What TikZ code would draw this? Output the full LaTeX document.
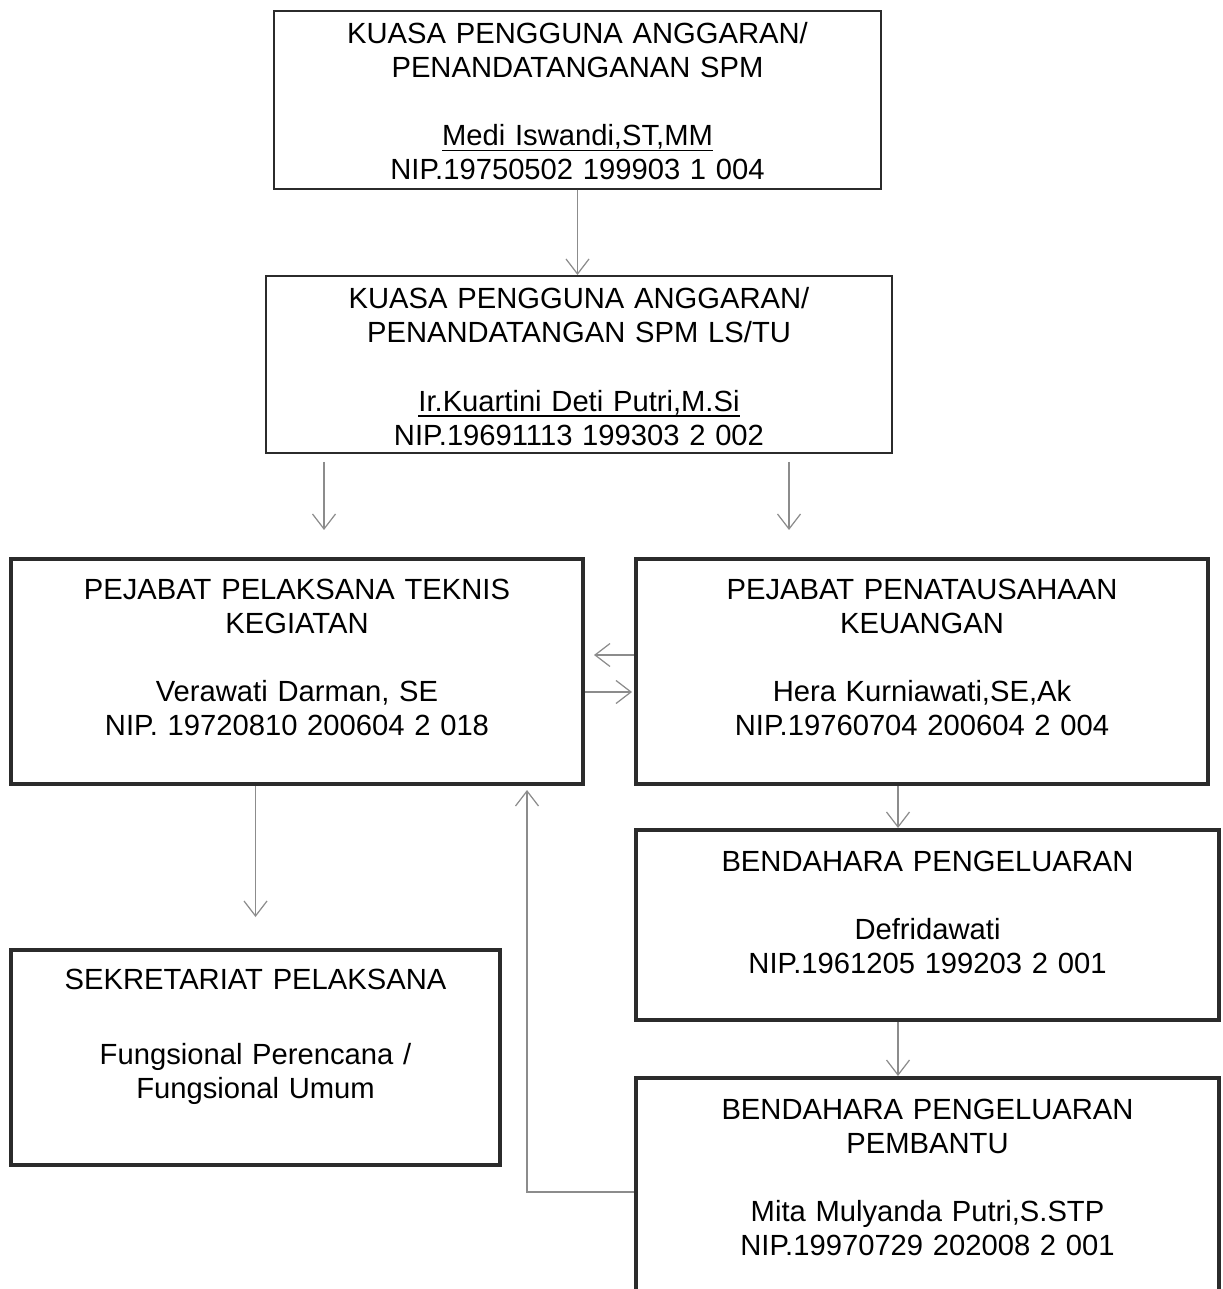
\documentclass[tikz,border=0pt]{standalone}
\usepackage{fontspec}
\setmainfont{Liberation Sans}
\usetikzlibrary{arrows.meta,positioning,calc}
\definecolor{oframe}{HTML}{2B2B2B}
\definecolor{oarrow}{HTML}{8C8C8C}
\newcommand{\nameline}[1]{\underline{\smash{#1}}}

\begin{document}
\begin{tikzpicture}[x=0.01cm, y=-0.01cm,
  box/.style={draw=oframe, anchor=north, inner sep=0pt, align=center,
    font=\fontsize{8.3}{9.7}\selectfont},
  thinbox/.style={box, line width=0.45pt},
  thickbox/.style={box, line width=1.15pt},
  arr/.style={draw=oarrow, line width=0.35pt, -{Straight Barb[length=1.5mm, width=2.3mm]}}]
 \useasboundingbox (0,0) rectangle (1222,1289);
 % top of the chart
 \node[thinbox, text width=6.07cm, text height=0.325cm, text depth=1.455cm] (kpa) at (577.5,10)
  {KUASA PENGGUNA ANGGARAN/\\PENANDATANGANAN SPM\\[9.7pt]\nameline{Medi Iswandi,ST,MM}\\NIP.19750502 199903 1 004};
 \node[thinbox, text width=6.26cm, text height=0.33cm, text depth=1.44cm] (kpb) at (579,275)
  {KUASA PENGGUNA ANGGARAN/\\PENANDATANGAN SPM LS/TU\\[9.7pt]\nameline{Ir.Kuartini Deti Putri,M.Si}\\NIP.19691113 199303 2 002};
 % second row
 \node[thickbox, text width=5.72cm, text height=0.40cm, text depth=1.85cm] (pptk) at (297,557)
  {PEJABAT PELAKSANA TEKNIS\\KEGIATAN\\[9.7pt]Verawati Darman, SE\\NIP. 19720810 200604 2 018};
 \node[thickbox, text width=5.72cm, text height=0.40cm, text depth=1.85cm] (ppk) at (922,557)
  {PEJABAT PENATAUSAHAAN\\KEUANGAN\\[9.7pt]Hera Kurniawati,SE,Ak\\NIP.19760704 200604 2 004};
 % lower boxes
 \node[thickbox, text width=5.83cm, text height=0.41cm, text depth=1.49cm] (bp) at (927.5,828)
  {BENDAHARA PENGELUARAN\\[9.7pt]Defridawati\\NIP.1961205 199203 2 001};
 \node[thickbox, text width=4.89cm, text height=0.39cm, text depth=1.76cm] (sekr) at (255.5,948)
  {SEKRETARIAT PELAKSANA\\[11.7pt]Fungsional Perencana /\\Fungsional Umum};
 \node[thickbox, text width=5.83cm, text height=0.41cm, text depth=1.95cm] (bpp) at (927.5,1076)
  {BENDAHARA PENGELUARAN\\PEMBANTU\\[9.7pt]Mita Mulyanda Putri,S.STP\\NIP.19970729 202008 2 001};
 % free ends
 \coordinate (kl1) at (324,462);
 \coordinate (kl2) at (324,530);
 \coordinate (kr1) at (789,462);
 \coordinate (kr2) at (789,530);
 \coordinate (up) at (594,655);
 \coordinate (dn) at (632,692);
 \coordinate (sk) at (255.5,917);
 \coordinate (bk) at (527,790);
 % arrows
 \draw[arr] (kpa.south) -- (kpa.south |- kpb.north);
 \draw[arr] (kl1) -- (kl2);
 \draw[arr] (kr1) -- (kr2);
 \draw[arr] (ppk.west |- up) -- (up);
 \draw[arr] (pptk.east |- dn) -- (dn);
 \draw[arr] (pptk.south -| sk) -- (sk);
 \draw[arr] (ppk.south -| 898,0) -- (bp.north -| 898,0);
 \draw[arr] (bp.south -| 898,0) -- (bpp.north -| 898,0);
 \draw[arr] (bpp.west |- 0,1192) -| (bk);
\end{tikzpicture}
\end{document}
